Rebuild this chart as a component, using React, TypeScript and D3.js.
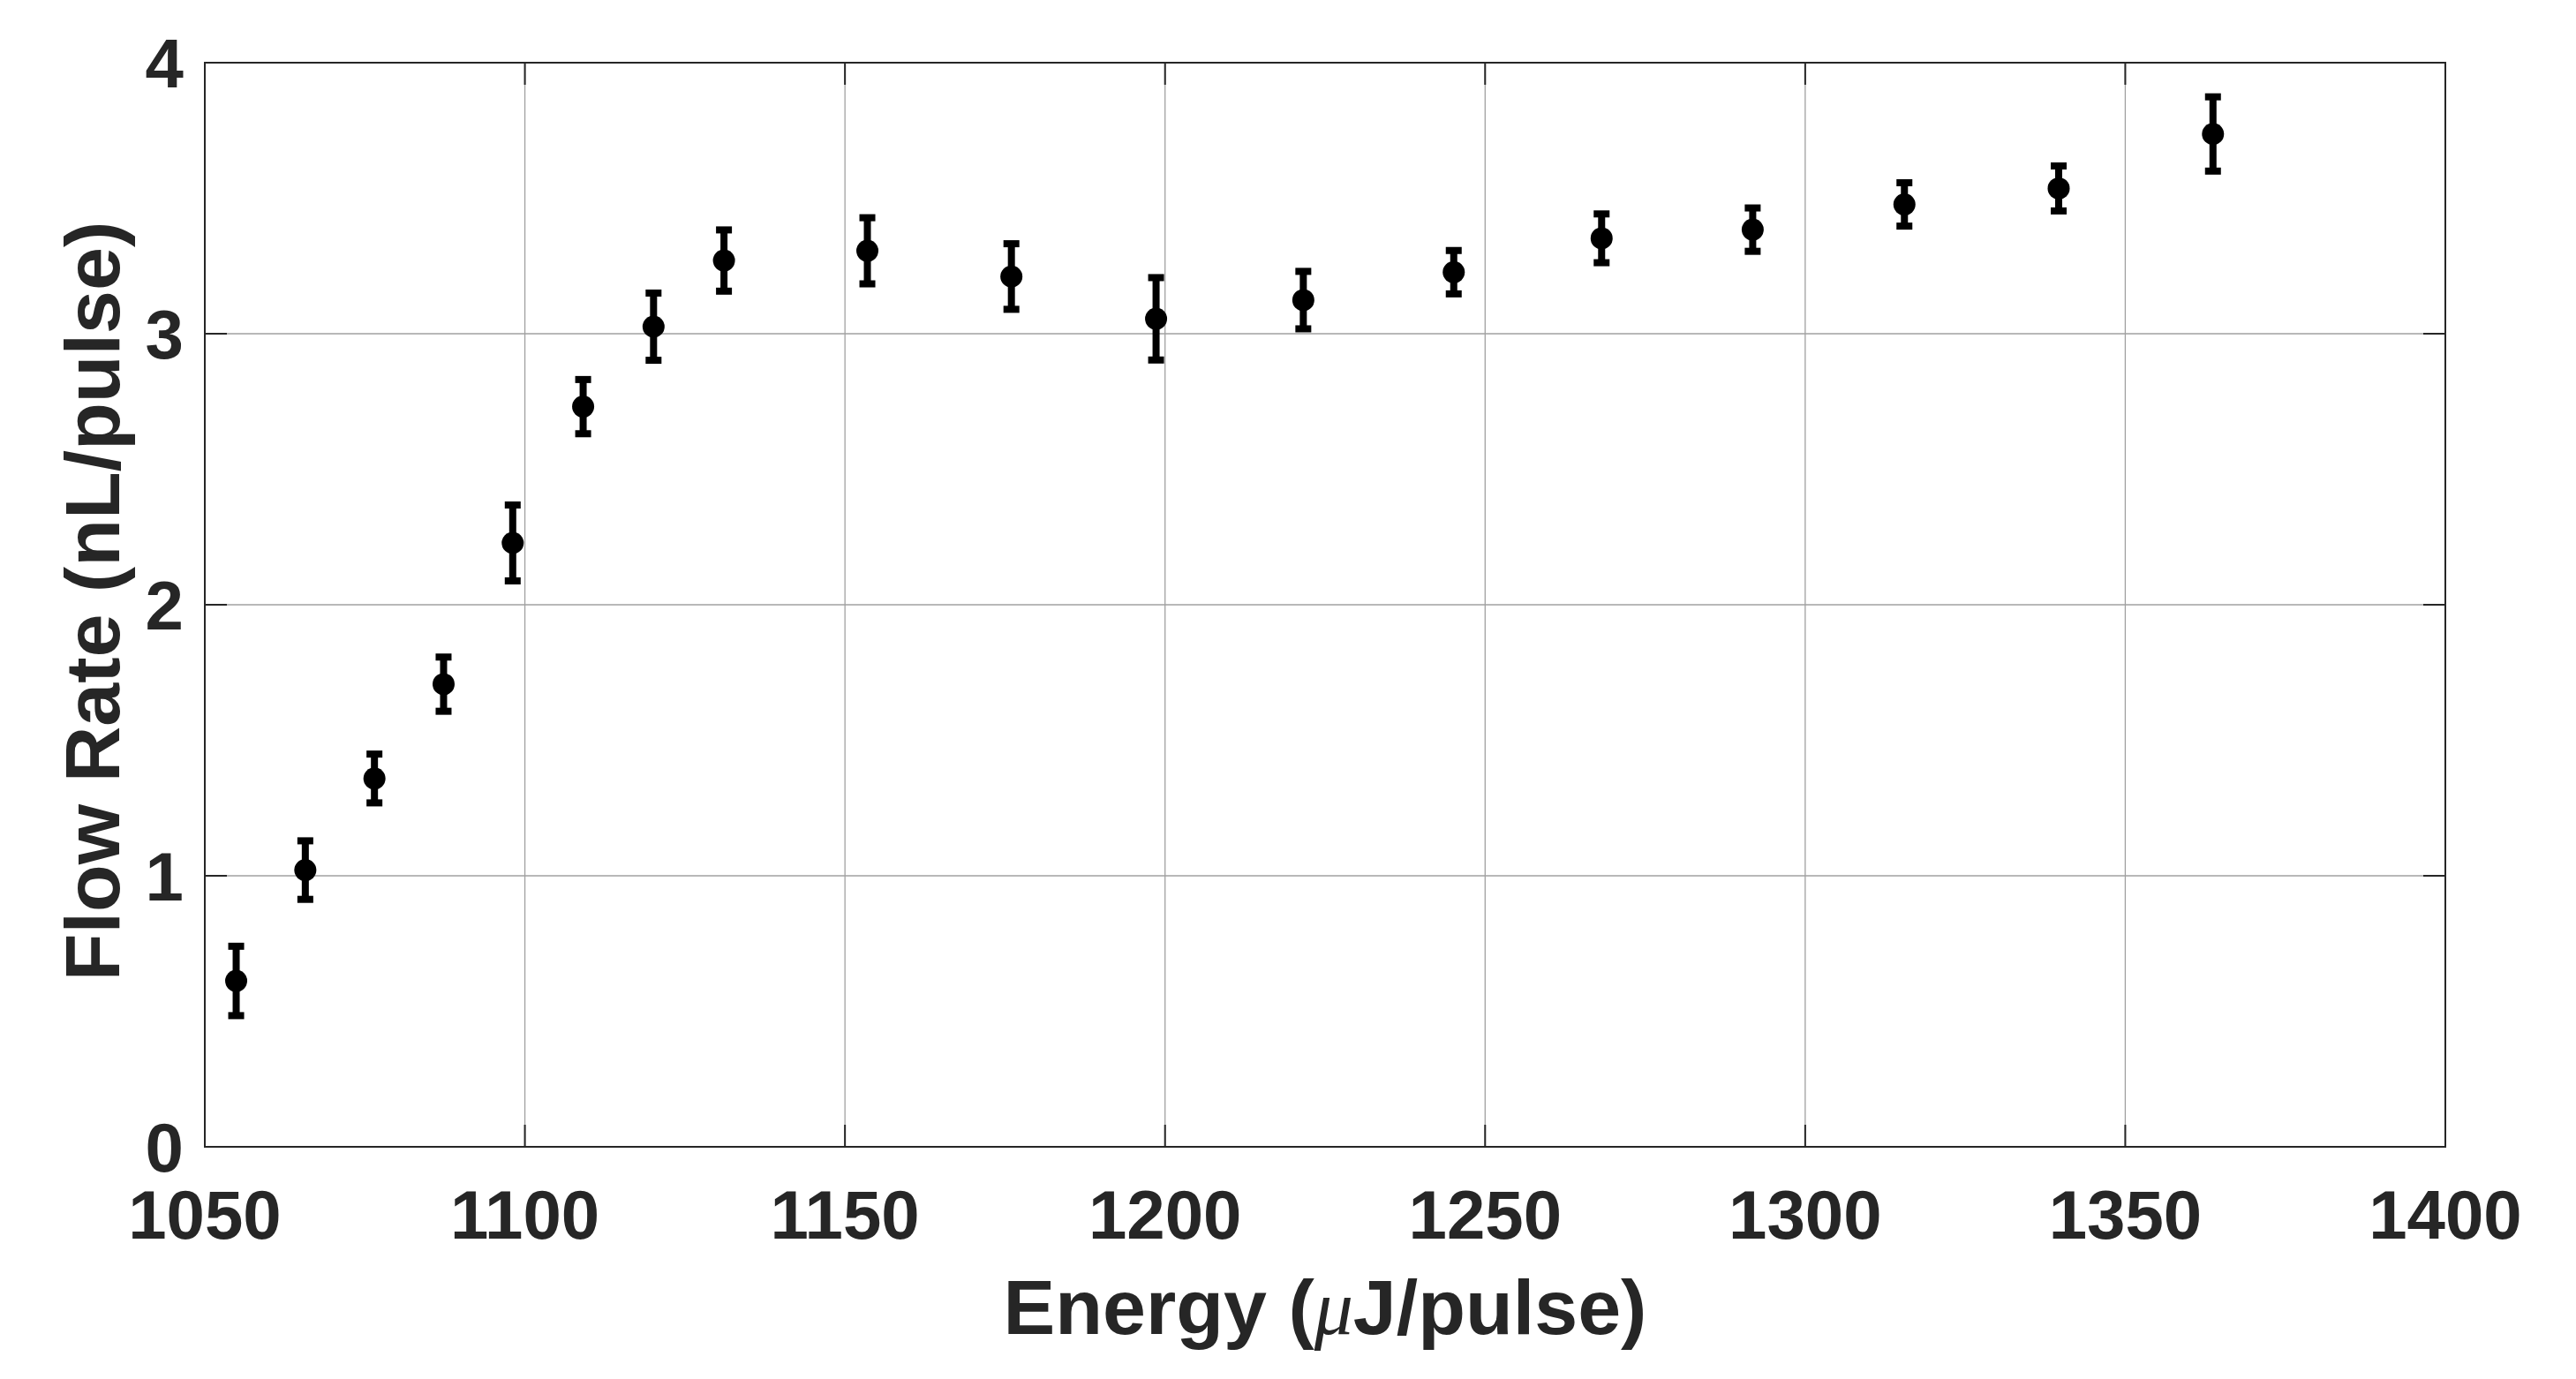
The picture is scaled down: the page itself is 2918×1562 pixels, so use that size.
import React from "react";
import * as d3 from "d3";

const energy = [1054.9, 1065.7, 1076.5, 1087.3, 1098.1, 1109.1, 1120.1, 1131.1, 1153.5, 1176.0, 1198.6, 1221.6, 1245.1, 1268.2, 1291.8, 1315.5, 1339.6, 1363.7];
const flowRate = [0.612, 1.021, 1.359, 1.707, 2.228, 2.731, 3.026, 3.270, 3.306, 3.211, 3.055, 3.124, 3.227, 3.352, 3.384, 3.477, 3.536, 3.737];
const flowErr = [0.128, 0.108, 0.09, 0.1, 0.14, 0.1, 0.124, 0.113, 0.122, 0.121, 0.152, 0.106, 0.08, 0.09, 0.08, 0.08, 0.083, 0.137];
const xTicks = [1050, 1100, 1150, 1200, 1250, 1300, 1350, 1400];
const yTicks = [0, 1, 2, 3, 4];
const xDomain = [1050, 1400];
const yDomain = [0, 4];

const W = 2918;
const H = 1562;
const left = 232;
const right = 2770;
const top = 71;
const bottom = 1299;

export default function App() {
  const x = d3.scaleLinear().domain(xDomain).range([left, right]);
  const y = d3.scaleLinear().domain(yDomain).range([bottom, top]);
  const textColor = "#262626";
  const font = "'Liberation Sans', Arial, sans-serif";
  const tickLen = 25;

  return (
    <svg
      width={W}
      height={H}
      style={{ position: "absolute", left: 0, top: 0, background: "#fff" }}
    >
      <rect x={0} y={0} width={W} height={H} fill="#fff" />
      {/* grid */}
      {xTicks.slice(1, -1).map((t) => (
        <line key={"gx" + t} x1={x(t)} x2={x(t)} y1={top} y2={bottom} stroke="#a0a0a0" strokeWidth={1.3} />
      ))}
      {yTicks.slice(1, -1).map((t) => (
        <line key={"gy" + t} x1={left} x2={right} y1={y(t)} y2={y(t)} stroke="#a0a0a0" strokeWidth={1.3} />
      ))}
      {/* ticks */}
      {xTicks.map((t) => (
        <g key={"tx" + t}>
          <line x1={x(t)} x2={x(t)} y1={bottom} y2={bottom - tickLen} stroke={textColor} strokeWidth={2} />
          <line x1={x(t)} x2={x(t)} y1={top} y2={top + tickLen} stroke={textColor} strokeWidth={2} />
          <text x={x(t)} y={1403} textAnchor="middle" fontFamily={font} fontWeight="bold" fontSize={78} fill={textColor}>
            {t}
          </text>
        </g>
      ))}
      {yTicks.map((t) => (
        <g key={"ty" + t}>
          <line x1={left} x2={left + tickLen} y1={y(t)} y2={y(t)} stroke={textColor} strokeWidth={2} />
          <line x1={right} x2={right - tickLen} y1={y(t)} y2={y(t)} stroke={textColor} strokeWidth={2} />
          <text x={208} y={y(t)} dy="0.36em" textAnchor="end" fontFamily={font} fontWeight="bold" fontSize={78} fill={textColor}>
            {t}
          </text>
        </g>
      ))}
      {/* box */}
      <rect x={left} y={top} width={right - left} height={bottom - top} fill="none" stroke={textColor} strokeWidth={2} />
      {/* error bars and markers */}
      {energy.map((e, i) => {
        const cx = x(e);
        const yT = y(flowRate[i] + flowErr[i]);
        const yB = y(flowRate[i] - flowErr[i]);
        return (
          <g key={"p" + i}>
            <line x1={cx} x2={cx} y1={yT} y2={yB} stroke="#000" strokeWidth={8} />
            <rect x={cx - 9} y={yT - 4} width={18} height={8} fill="#000" />
            <rect x={cx - 9} y={yB - 4} width={18} height={8} fill="#000" />
            <circle cx={cx} cy={y(flowRate[i])} r={12.5} fill="#000" />
          </g>
        );
      })}
      {/* axis titles */}
      <text x={(left + right) / 2} y={1511} textAnchor="middle" fontFamily={font} fontWeight="bold" fontSize={88} fill={textColor}>
        Energy (
        <tspan fontFamily="'Liberation Serif', 'DejaVu Serif', serif" fontStyle="italic" fontWeight="normal">
          μ
        </tspan>
        J/pulse)
      </text>
      <text
        transform={`translate(135, ${(top + bottom) / 2 - 4}) rotate(-90)`}
        textAnchor="middle"
        fontFamily={font}
        fontWeight="bold"
        fontSize={88}
        fill={textColor}
      >
        Flow Rate (nL/pulse)
      </text>
    </svg>
  );
}
